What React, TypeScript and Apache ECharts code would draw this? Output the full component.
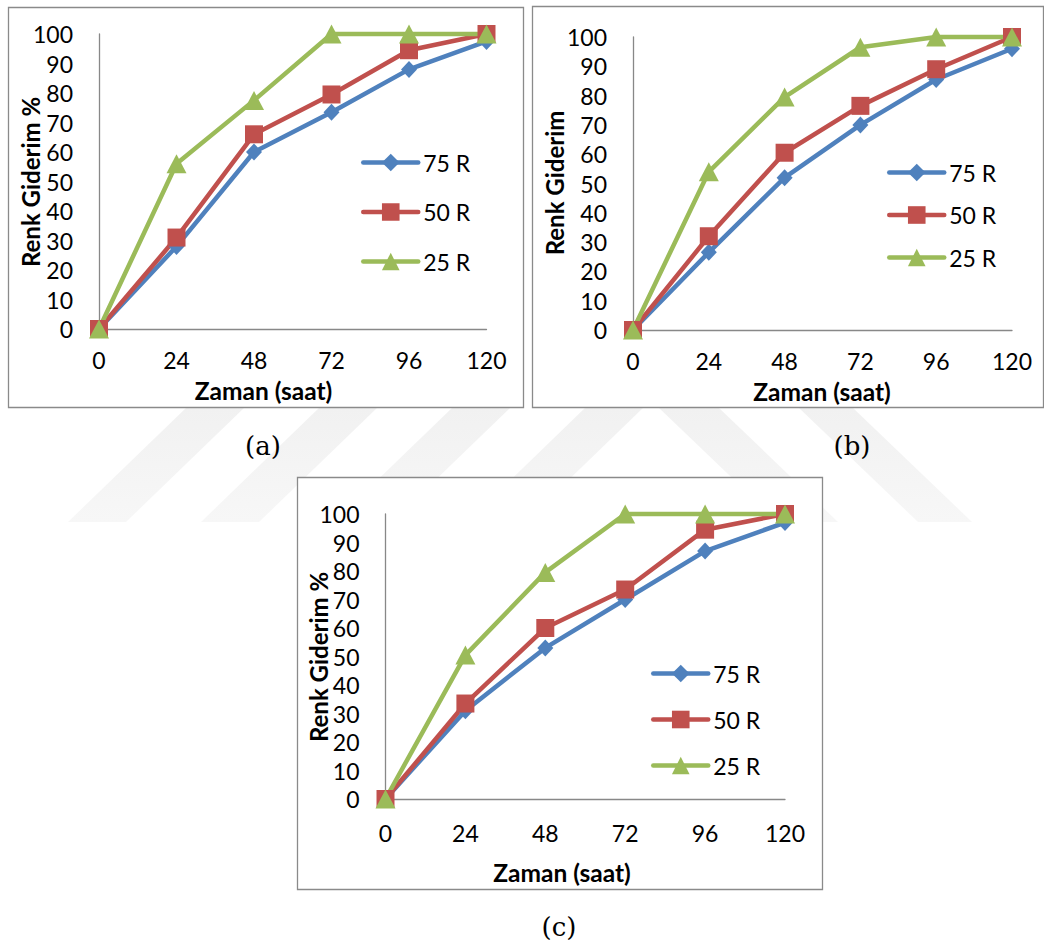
import React, { useEffect, useRef } from "react";
import * as echarts from "echarts";

// ---- data ----
const hours = [0, 24, 48, 72, 96, 120];
const seriesNames = ["75 R", "50 R", "25 R"];

const a75 = [0, 28, 60, 73.5, 88, 97.5];
const a50 = [0, 31, 66, 79.5, 94.5, 100];
const a25 = [0, 56, 77.5, 100, 100, 100];

const b75 = [0, 26.5, 52, 70, 85.5, 96];
const b50 = [0, 32, 60.5, 76.5, 89, 100];
const b25 = [0, 54, 79.5, 96.5, 100, 100];

const c75 = [0, 31, 53, 70, 87, 97];
const c50 = [0, 33.5, 60, 73.5, 94.5, 100];
const c25 = [0, 50.5, 79.5, 100, 100, 100];

const xTitle = "Zaman (saat)";
const yTitles = ["Renk Giderim %", "Renk Giderim", "Renk Giderim %"];
const captions = ["(a)", "(b)", "(c)"];

// ---- layout / style ----
const COLORS = ["#4F81BD", "#C0504D", "#9BBB59"];
const SYMBOLS = ["diamond", "rect", "triangle"];
const SYMBOL_SIZES: any[] = [[16, 17], 18, [20, 19]];
const FONT = "Lato";
const AXIS_GRAY = "#888888";
const TICK_SIZE = 23;

const panels = [
  {
    data: [a75, a50, a25],
    box: [8, 7, 515, 400],
    grid: { left: 99, top: 34, width: 387.5, height: 295 },
    yTitlePos: [30, 182],
    xTitlePos: [263.5, 390.5],
    xLabelMargin: 22,
    legend: { left: 361, firstRow: 162, step: 48.5 },
    capPos: [263, 446],
  },
  {
    data: [b75, b50, b25],
    box: [532, 6, 511, 401],
    grid: { left: 633, top: 37, width: 379, height: 293 },
    yTitlePos: [554, 183],
    xTitlePos: [822, 391.5],
    xLabelMargin: 22,
    legend: { left: 887, firstRow: 172, step: 41.5 },
    capPos: [852, 446],
  },
  {
    data: [c75, c50, c25],
    box: [297, 477, 525, 412],
    grid: { left: 385.5, top: 514, width: 399.5, height: 285 },
    yTitlePos: [318, 657],
    xTitlePos: [562, 872],
    xLabelMargin: 25,
    legend: { left: 651, firstRow: 673, step: 45 },
    capPos: [559, 927],
  },
];

function buildOption() {
  const grid: any[] = [];
  const xAxis: any[] = [];
  const yAxis: any[] = [];
  const series: any[] = [];
  const legend: any[] = [];
  const graphic: any[] = [];

  // watermark stripes
  const wmFill = {
    type: "linear",
    x: 0, y: 0, x2: 0, y2: 1,
    colorStops: [
      { offset: 0, color: "#f1f1f1" },
      { offset: 1, color: "#f7f7f7" },
    ],
  };
  for (let i = 0; i < 4; i++) {
    const bl = 68 + 133 * i;
    graphic.push({
      type: "polygon",
      z: -10,
      silent: true,
      shape: { points: [[bl, 522], [bl + 58, 522], [bl + 177, 407], [bl + 119, 407]] },
      style: { fill: wmFill },
    });
  }
  [[658, 718], [798, 852]].forEach(([L, R]) => {
    graphic.push({
      type: "polygon",
      z: -10,
      silent: true,
      shape: { points: [[L, 407], [R, 407], [R + 120, 522], [L + 120, 522]] },
      style: { fill: wmFill },
    });
  });

  panels.forEach((p, i) => {
    graphic.push({
      type: "rect",
      z: -5,
      silent: true,
      shape: { x: p.box[0] + 0.5, y: p.box[1] + 0.5, width: p.box[2], height: p.box[3] },
      style: { fill: "#ffffff", stroke: "#8a8a8a", lineWidth: 1.3 },
    });
    graphic.push({
      type: "text",
      z: 10,
      x: p.yTitlePos[0],
      y: p.yTitlePos[1],
      rotation: Math.PI / 2,
      style: {
        text: yTitles[i],
        font: `bold 24px ${FONT}`,
        fill: "#000",
        align: "center",
        verticalAlign: "middle",
      },
    });
    graphic.push({
      type: "text",
      z: 10,
      x: p.xTitlePos[0],
      y: p.xTitlePos[1],
      style: {
        text: xTitle,
        font: `bold 24.5px ${FONT}`,
        lineHeight: 20,
        fill: "#000",
        align: "center",
        verticalAlign: "middle",
      },
    });
    graphic.push({
      type: "text",
      z: 10,
      x: p.capPos[0],
      y: p.capPos[1],
      style: {
        text: captions[i],
        font: `26px "DejaVu Serif"`,
        fill: "#000",
        align: "center",
        verticalAlign: "middle",
      },
    });

    grid.push({ ...p.grid, containLabel: false });
    xAxis.push({
      type: "value",
      gridIndex: i,
      min: 0,
      max: 120,
      interval: 24,
      axisLine: { show: true, lineStyle: { color: AXIS_GRAY, width: 1.3 } },
      axisTick: { show: false },
      splitLine: { show: false },
      axisLabel: {
        fontSize: TICK_SIZE,
        fontFamily: FONT,
        color: "#000",
        margin: p.xLabelMargin,
        lineHeight: 18,
      },
    });
    yAxis.push({
      type: "value",
      gridIndex: i,
      min: 0,
      max: 100,
      interval: 10,
      axisLine: { show: true, lineStyle: { color: AXIS_GRAY, width: 1.3 } },
      axisTick: { show: false },
      splitLine: { show: false },
      axisLabel: { fontSize: TICK_SIZE, fontFamily: FONT, color: "#000", margin: 26 },
    });
    p.data.forEach((vals, k) => {
      series.push({
        type: "line",
        name: seriesNames[k],
        xAxisIndex: i,
        yAxisIndex: i,
        data: hours.map((h, j) => [h, vals[j]]),
        symbol: SYMBOLS[k],
        symbolSize: SYMBOL_SIZES[k],
        showAllSymbol: true,
        clip: false,
        color: COLORS[k],
        lineStyle: { color: COLORS[k], width: 4.5, cap: "round", join: "round" },
        itemStyle: { color: COLORS[k] },
      });
    });
    const itemH = 22;
    legend.push({
      orient: "vertical",
      left: p.legend.left,
      top: p.legend.firstRow - itemH / 2,
      padding: 0,
      itemWidth: 55,
      itemHeight: itemH,
      itemGap: p.legend.step - itemH,
      selectedMode: false,
      data: seriesNames,
      lineStyle: { width: 4.5, cap: "round" },
      textStyle: { fontSize: TICK_SIZE, fontFamily: FONT, color: "#000" },
    });
  });

  return { animation: false, backgroundColor: "#ffffff", grid, xAxis, yAxis, series, legend, graphic };
}

export default function App() {
  const ref = useRef<HTMLDivElement>(null);
  useEffect(() => {
    if (!ref.current) return;
    const chart = echarts.init(ref.current, undefined, { renderer: "svg" });
    chart.setOption(buildOption() as any);
    return () => chart.dispose();
  }, []);
  return (
    <div
      ref={ref}
      style={{ position: "absolute", left: 0, top: 0, width: 1044, height: 944 }}
    />
  );
}
